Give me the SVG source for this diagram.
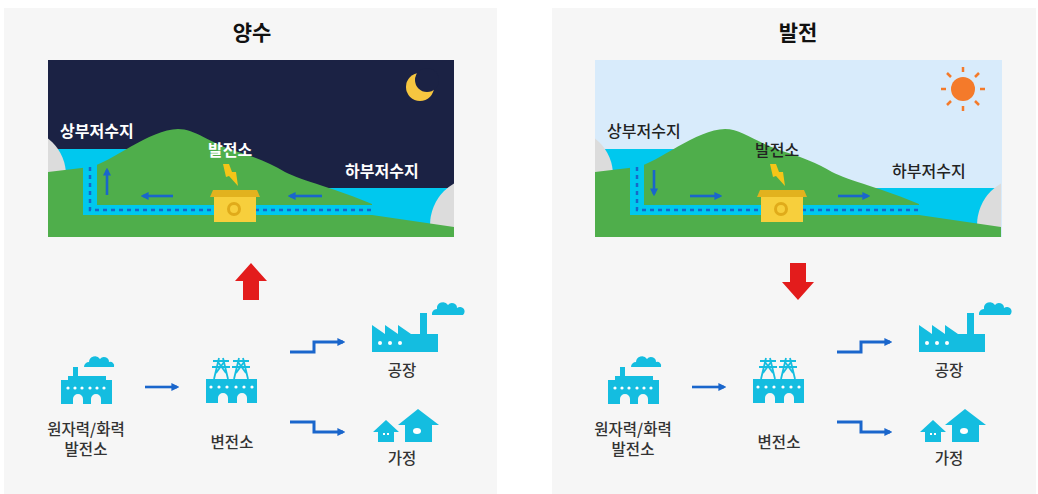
<svg xmlns="http://www.w3.org/2000/svg" width="1038" height="494" viewBox="0 0 1038 494">
  <style>
    .panel{fill:#f6f6f6}
    .t{font-family:"Noto Sans CJK KR","Noto Sans",sans-serif}
    .title{font-size:21px;font-weight:700;fill:#111;text-anchor:middle}
    .night{font-size:16px;font-weight:700;fill:#ffffff}
    .day{font-size:16px;font-weight:500;fill:#222222}
    .cap{font-size:15.5px;font-weight:500;fill:#333333;text-anchor:middle}
    .icon{fill:#14bde0}
    .dot{fill:#ffffff}
    .pylon{fill:none;stroke:#14bde0;stroke-width:1.8}
    .water{fill:#00c8ee}
    .rock{fill:#dcdcdc}
    .flow{fill:none;stroke:#1a66cc;stroke-width:2.6;marker-end:url(#head)}
    .step{fill:none;stroke:#1a66cc;stroke-width:3;marker-end:url(#head)}
    .big{fill:#e31c1c}
  </style>
  <defs>
    <marker id="head" viewBox="0 0 10 10" refX="7" refY="5" markerWidth="8" markerHeight="8" markerUnits="userSpaceOnUse" orient="auto">
      <path d="M0,0 L10,5 L0,10 Z" fill="#1a66cc"/>
    </marker>
    <clipPath id="clip-scene"><rect x="0" y="0" width="406" height="177"/></clipPath>

    <!-- shared landscape: reservoirs, mountain, pipe and powerhouse (local coords) -->
    <g id="landscape">
      <g clip-path="url(#clip-scene)">
        <rect class="water" x="0" y="89" width="110" height="40"/>
        <rect class="water" x="240" y="128" width="166" height="49"/>
        <circle class="rock" cx="-28" cy="115" r="46"/>
        <circle class="rock" cx="430" cy="165" r="48"/>
        <path fill="#4fae4b" d="M0,112 L42,107 C62,103 102,69 130,69 C147,69 162,83 187,91 C207,97 222,103 237,112 C252,120 292,130 324,144 L324,155 L406,167 L406,177 L0,177 Z"/>
        <path class="water" d="M35,103 H49 V145 H329 V155 H35 Z"/>
        <path d="M42,107 V150 H327" fill="none" stroke="#1668c9" stroke-width="2.5" stroke-dasharray="4 4"/>
        <path d="M162,137 L165,130 H209 L212,137 Z" fill="#e2b21e"/>
        <rect x="166" y="137" width="42" height="25" fill="#f7cf3c"/>
        <circle cx="186" cy="149" r="5.5" fill="none" stroke="#e0ab1a" stroke-width="3"/>
        <path d="M175,104 L181,104 L184,112 L188,112 L190,126 L181,116 L178,117 Z" fill="#f5c518"/>
      </g>
    </g>

    <!-- power plant icon -->
    <g id="ico-plant" class="icon">
      <path d="M84,367 a5,5 0 0 1 5,-5 a6,6 0 0 1 11,-3 a5,5 0 0 1 9,3 a4,4 0 0 1 5,5 Z"/>
      <rect x="73" y="367" width="5" height="15"/>
      <rect x="68" y="376" width="38" height="6"/>
      <path d="M61,380 H112 V404 H101 V399 A5,5 0 0 0 91,399 V404 H83 V399 A5,5 0 0 0 73,399 V404 H61 Z"/>
      <g class="dot">
        <circle cx="68" cy="388" r="1.6"/><circle cx="75" cy="388" r="1.6"/><circle cx="82" cy="388" r="1.6"/>
        <circle cx="90" cy="388" r="1.6"/><circle cx="97" cy="388" r="1.6"/><circle cx="104" cy="388" r="1.6"/>
      </g>
    </g>

    <!-- substation icon -->
    <g id="ico-substation">
      <g class="pylon">
        <path d="M219,358 L214,379 M223,358 L228,379 M213,361 H229 M212,367 H230 M218,362 L226,373 M224,362 L216,373"/>
        <path d="M239,358 L234,379 M243,358 L248,379 M233,361 H249 M232,367 H250 M238,362 L246,373 M244,362 L236,373"/>
      </g>
      <path class="icon" d="M206,379 H257 V403 H247 V398 A5,5 0 0 0 237,398 V403 H228 V398 A5,5 0 0 0 218,398 V403 H206 Z"/>
      <g class="dot">
        <circle cx="211" cy="387" r="1.6"/><circle cx="219" cy="387" r="1.6"/><circle cx="227" cy="387" r="1.6"/>
        <circle cx="236" cy="387" r="1.6"/><circle cx="244" cy="387" r="1.6"/><circle cx="252" cy="387" r="1.6"/>
      </g>
    </g>

    <!-- factory icon -->
    <g id="ico-factory">
      <path class="icon" d="M432,315 a5,5 0 0 1 5,-6 a6,6 0 0 1 11,-4 a5,5 0 0 1 9,3 a4,4 0 0 1 6,7 Z"/>
      <path class="icon" d="M372,352 V325 L385,334 V325 L398,334 V325 L411,334 H420 V313 H427 V334 H438 V352 Z"/>
      <g class="dot">
        <circle cx="380" cy="343" r="2"/><circle cx="390" cy="343" r="2"/><circle cx="400" cy="343" r="2"/>
      </g>
    </g>

    <!-- houses icon -->
    <g id="ico-houses">
      <path class="icon" d="M373,432 L386,420 L399,432 H394 V442 H378 V432 Z"/>
      <path class="icon" d="M398,425 L418,409 L439,425 H432 V442 H405 V425 Z"/>
      <rect class="dot" x="383" y="433" width="2" height="2"/>
      <rect class="dot" x="387" y="433" width="2" height="2"/>
      <ellipse class="dot" cx="417" cy="431" rx="4" ry="3"/>
    </g>
  </defs>

  <!-- background panels -->
  <rect class="panel" x="4" y="8" width="493" height="486"/>
  <rect class="panel" x="552" y="8" width="484" height="486"/>

  <text class="t title" x="252" y="40">양수</text>
  <text class="t title" x="798" y="40">발전</text>

  <!-- night scene: pumping -->
  <g id="scene-pump">
    <rect x="48" y="60" width="406" height="177" fill="#1b2244"/>
    <use href="#landscape" transform="translate(48,60)"/>
    <circle cx="420" cy="87" r="14" fill="#f6c640"/>
    <circle cx="427" cy="80" r="12" fill="#1b2244"/>
    <line class="flow" x1="107" y1="195" x2="107" y2="170"/>
    <line class="flow" x1="173" y1="196" x2="143" y2="196"/>
    <line class="flow" x1="322" y1="196" x2="290" y2="196"/>
    <text class="t night" x="60" y="137">상부저수지</text>
    <text class="t night" x="208" y="156">발전소</text>
    <text class="t night" x="345" y="177">하부저수지</text>
  </g>

  <!-- day scene: generation -->
  <g id="scene-gen">
    <rect x="595" y="60" width="407" height="177" fill="#d8ebfb"/>
    <use href="#landscape" transform="translate(595,60)"/>
    <circle cx="963" cy="89" r="12" fill="#f47a2a"/>
    <g stroke="#f47a2a" stroke-width="2.5">
      <line x1="963" y1="72" x2="963" y2="67"/>
      <line x1="963" y1="106" x2="963" y2="111"/>
      <line x1="946" y1="89" x2="941" y2="89"/>
      <line x1="980" y1="89" x2="985" y2="89"/>
      <line x1="951" y1="77" x2="947" y2="73"/>
      <line x1="975" y1="77" x2="979" y2="73"/>
      <line x1="951" y1="101" x2="947" y2="105"/>
      <line x1="975" y1="101" x2="979" y2="105"/>
    </g>
    <line class="flow" x1="654" y1="170" x2="654" y2="194"/>
    <line class="flow" x1="690" y1="196" x2="720" y2="196"/>
    <line class="flow" x1="838" y1="196" x2="868" y2="196"/>
    <text class="t day" x="607" y="137">상부저수지</text>
    <text class="t day" x="755" y="156">발전소</text>
    <text class="t day" x="892" y="177">하부저수지</text>
  </g>

  <!-- pumping side nodes -->
  <g id="plant-pump">
    <use href="#ico-plant"/>
    <text class="t cap" x="86" y="435">원자력/화력</text>
    <text class="t cap" x="86" y="455">발전소</text>
  </g>
  <g id="substation-pump">
    <use href="#ico-substation"/>
    <text class="t cap" x="232" y="448">변전소</text>
  </g>
  <g id="factory-pump">
    <use href="#ico-factory"/>
    <text class="t cap" x="402" y="376">공장</text>
  </g>
  <g id="homes-pump">
    <use href="#ico-houses"/>
    <text class="t cap" x="402" y="464">가정</text>
  </g>

  <!-- generation side nodes -->
  <g id="plant-gen" transform="translate(547,0)">
    <use href="#ico-plant"/>
    <text class="t cap" x="86" y="435">원자력/화력</text>
    <text class="t cap" x="86" y="455">발전소</text>
  </g>
  <g id="substation-gen" transform="translate(547,0)">
    <use href="#ico-substation"/>
    <text class="t cap" x="232" y="448">변전소</text>
  </g>
  <g id="factory-gen" transform="translate(547,0)">
    <use href="#ico-factory"/>
    <text class="t cap" x="402" y="376">공장</text>
  </g>
  <g id="homes-gen" transform="translate(547,0)">
    <use href="#ico-houses"/>
    <text class="t cap" x="402" y="464">가정</text>
  </g>

  <!-- connectors -->
  <g id="connectors">
    <path class="big" d="M251,263 L267,281 H259 V300 H243 V281 H235 Z"/>
    <line class="flow" x1="145" y1="387" x2="177" y2="387"/>
    <path class="step" d="M290,352 H314 V342 H343"/>
    <path class="step" d="M290,422 H314 V432 H343"/>

    <path class="big" d="M798,300 L782,282 H790 V263 H806 V282 H814 Z"/>
    <line class="flow" x1="692" y1="387" x2="724" y2="387"/>
    <path class="step" d="M837,352 H861 V342 H890"/>
    <path class="step" d="M837,422 H861 V432 H890"/>
  </g>
</svg>
